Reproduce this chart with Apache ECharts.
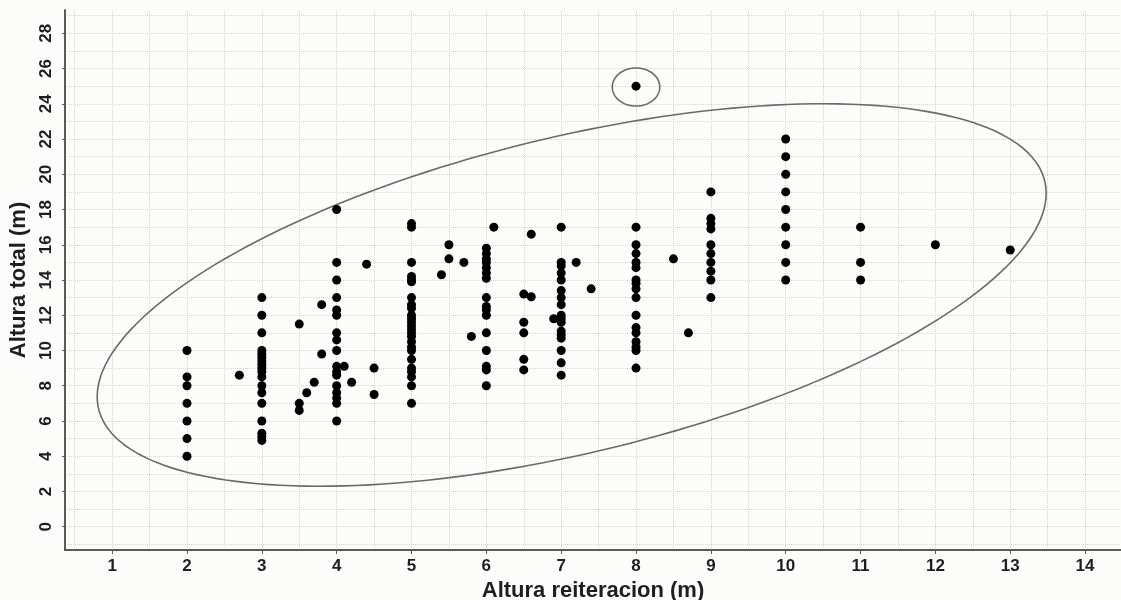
<!DOCTYPE html>
<html>
<head>
<meta charset="utf-8">
<script src="https://cdn.jsdelivr.net/npm/echarts@6/dist/echarts.min.js"></script>
<style>
  html, body { margin: 0; padding: 0; background: #fcfcfa; }
  #chart { width: 1121px; height: 600px; }
</style>
</head>
<body>
<div id="chart"></div>
<script>
// x positions (altura reiteracion) and the altura total values measured at each
const reiteracion = [2, 2.7, 3, 3.5, 3.6, 3.7, 3.8, 4, 4.1, 4.2, 4.4, 4.5, 5, 5.4, 5.5, 5.7, 5.8,
  6, 6.1, 6.5, 6.6, 6.9, 7, 7.2, 7.4, 8, 8.5, 8.7, 9, 10, 11, 12, 13];
const alturaTotal = [
  [10, 8.5, 8, 7, 6, 5, 4],
  [8.6],
  [13, 12, 11, 10, 9.8, 9.6, 9.4, 9.2, 9, 8.8, 8.5, 8, 7.6, 7, 6, 5.3, 5.1, 4.9],
  [11.5, 7, 6.6],
  [7.6],
  [8.2],
  [12.6, 9.8],
  [18, 15, 14, 13, 12.3, 12, 11, 10.6, 10, 9.1, 8.8, 8.6, 8, 7.6, 7.3, 7, 6],
  [9.1],
  [8.2],
  [14.9],
  [9, 7.5],
  [17.2, 17, 15, 14.2, 14, 13.9, 13, 12.6, 12.4, 12, 11.8, 11.6, 11.4, 11.2, 11, 10.8, 10.5, 10.2, 10, 9.5, 9, 8.8, 8.5, 8, 7],
  [14.3],
  [16, 15.2],
  [15],
  [10.8],
  [15.8, 15.5, 15.2, 15, 14.7, 14.4, 14.1, 13, 12.5, 12.3, 12, 11, 10, 9.1, 8.9, 8],
  [17],
  [13.2, 11.6, 11, 9.5, 8.9],
  [16.6, 13.05],
  [11.8],
  [17, 15, 14.8, 14.4, 14, 13.4, 13, 12.6, 12, 11.8, 11.6, 11.1, 10.9, 10.7, 10, 9.3, 8.6],
  [15],
  [13.5],
  [25, 17, 16, 15.5, 15, 14.7, 14, 13.8, 13.5, 13, 12, 11.3, 11, 10.5, 10.2, 10, 9],
  [15.2],
  [11],
  [19, 17.5, 17.2, 16.9, 16, 15.5, 15, 14.5, 14, 13],
  [22, 21, 20, 19, 18, 17, 16, 15, 14],
  [17, 15, 14],
  [16],
  [15.7]
];

// tick labels
const xTicks = [1, 2, 3, 4, 5, 6, 7, 8, 9, 10, 11, 12, 13, 14];
const yTicks = [0, 2, 4, 6, 8, 10, 12, 14, 16, 18, 20, 22, 24, 26, 28];

// ellipses drawn over the data: centre, then two conjugate semi-diameters (data units)
const ellipses = [
  [7.14, 13.15, 6.34, 5.77, 0, 9.19],
  [8.0, 24.95, 0.317, 0, 0, 1.08]
];

const points = [];
reiteracion.forEach((x, i) => {
  alturaTotal[i].forEach((y) => points.push([x, y]));
});

// background grid every 0.5 on x and every 1 on y
const xGrid = [];
for (let v = 0.5; v <= 14.5; v += 0.5) xGrid.push(v);
const yGrid = [];
for (let v = -1; v <= 29; v += 1) yGrid.push(v);

const font = "'Liberation Sans', Arial, sans-serif";
const axisColor = "#5a5a5a";
const textColor = "#1e1e1e";

const chart = echarts.init(document.getElementById("chart"));

const option = {
  backgroundColor: "#fcfcfa",
  animation: false,
  grid: {
    left: 65,
    right: 0,
    top: 10,
    bottom: 50,
    containLabel: false,
    outerBoundsMode: "none",
  },
  xAxis: {
    type: "value",
    min: 0.37,
    max: 14.48,
    name: "Altura reiteracion (m)",
    nameLocation: "middle",
    nameGap: 26,
    nameTextStyle: { fontSize: 22, fontWeight: "bold", color: textColor, fontFamily: font },
    axisLine: { show: true, onZero: false, lineStyle: { color: axisColor, width: 2 } },
    axisTick: { show: true, customValues: xTicks, length: 4, lineStyle: { color: axisColor } },
    axisLabel: {
      customValues: xTicks,
      fontSize: 17,
      fontWeight: "bold",
      color: textColor,
      fontFamily: font,
      margin: 8,
    },
    splitLine: { show: false },
  },
  yAxis: {
    type: "value",
    min: -1.32,
    max: 29.32,
    name: "Altura total (m)",
    nameLocation: "middle",
    nameGap: 27,
    nameTextStyle: { fontSize: 22, fontWeight: "bold", color: textColor, fontFamily: font },
    axisLine: { show: true, onZero: false, lineStyle: { color: axisColor, width: 2 } },
    axisTick: { show: true, customValues: yTicks, length: 3, lineStyle: { color: axisColor } },
    axisLabel: {
      customValues: yTicks,
      rotate: 90,
      fontSize: 17,
      fontWeight: "bold",
      color: textColor,
      fontFamily: font,
      margin: 10,
    },
    splitLine: { show: false },
  },
  series: [
    {
      // grid lines
      type: "line",
      data: [],
      z: 0,
      silent: true,
      markLine: {
        z: 0,
        silent: true,
        symbol: ["none", "none"],
        label: { show: false },
        lineStyle: { color: "#d6d8c6", type: "dotted", width: 1 },
        emphasis: { disabled: true },
        data: [
          ...xGrid.map((v) => ({ xAxis: v })),
          ...yGrid.map((v) => ({ yAxis: v })),
        ],
      },
    },
    {
      type: "custom",
      z: 2,
      silent: true,
      data: ellipses,
      encode: { x: 0, y: 1 },
      renderItem: function (params, api) {
        const cx = api.value(0), cy = api.value(1);
        const ux = api.value(2), uy = api.value(3);
        const vx = api.value(4), vy = api.value(5);
        const pts = [];
        for (let i = 0; i < 200; i++) {
          const t = (i / 200) * Math.PI * 2;
          pts.push(api.coord([
            cx + ux * Math.cos(t) + vx * Math.sin(t),
            cy + uy * Math.cos(t) + vy * Math.sin(t),
          ]));
        }
        return {
          type: "polygon",
          shape: { points: pts },
          style: { fill: "none", stroke: "#6a6a6a", lineWidth: 1.6 },
        };
      },
    },
    {
      type: "scatter",
      z: 5,
      data: points,
      symbol: "circle",
      symbolSize: 9,
      itemStyle: { color: "#000", opacity: 1 },
    },
  ],
};

chart.setOption(option);
</script>
</body>
</html>
